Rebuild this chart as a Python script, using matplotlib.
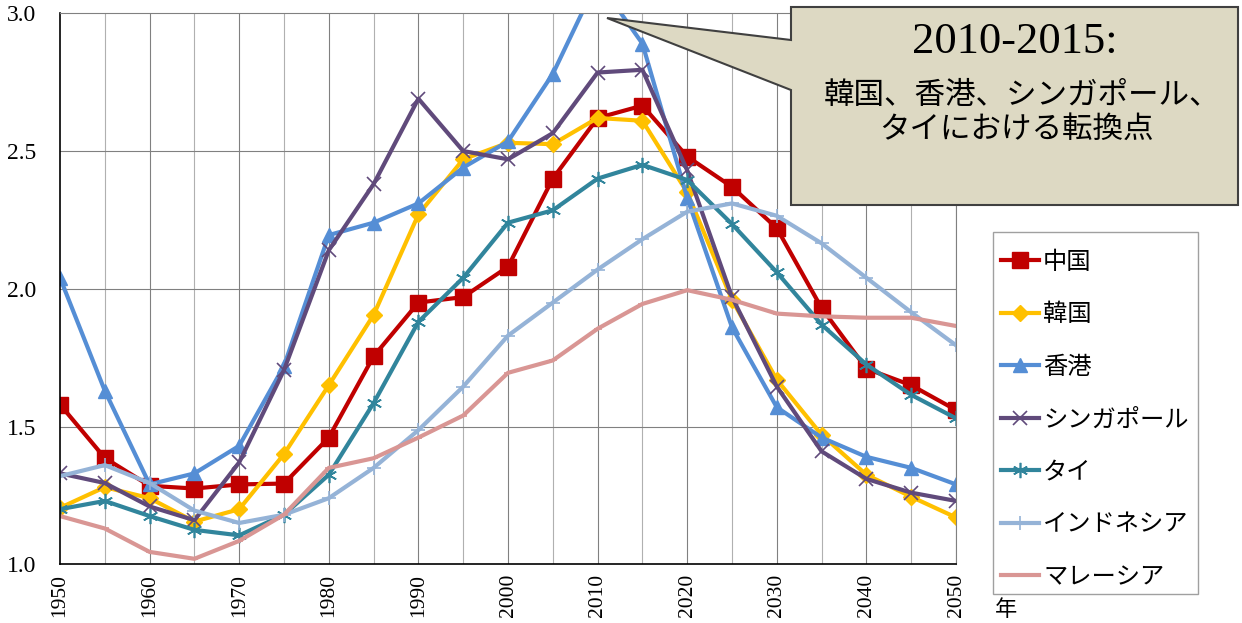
import matplotlib
matplotlib.use('Agg')
import matplotlib.pyplot as plt
from matplotlib.patches import Polygon, Rectangle

plt.rcParams['font.family'] = ['Noto Sans CJK JP', 'DejaVu Sans']

years = list(range(1950, 2051, 5))

china = [1.58, 1.386, 1.285, 1.275, 1.29, 1.293, 1.46, 1.755, 1.95, 1.97, 2.08,
         2.40, 2.62, 2.665, 2.48, 2.37, 2.22, 1.93, 1.71, 1.65, 1.56]
korea = [1.205, 1.28, 1.24, 1.155, 1.20, 1.40, 1.65, 1.905, 2.27, 2.47, 2.53,
         2.525, 2.62, 2.61, 2.35, 1.96, 1.67, 1.47, 1.325, 1.245, 1.17]
hongkong = [2.04, 1.63, 1.29, 1.33, 1.43, 1.72, 2.195, 2.24, 2.31, 2.44, 2.535,
            2.78, 3.12, 2.89, 2.33, 1.86, 1.57, 1.46, 1.39, 1.35, 1.29]
singapore = [1.33, 1.295, 1.21, 1.16, 1.37, 1.705, 2.14, 2.38, 2.69, 2.50, 2.47,
             2.565, 2.785, 2.795, 2.43, 1.97, 1.645, 1.41, 1.31, 1.26, 1.23]
thailand = [1.20, 1.23, 1.175, 1.125, 1.105, 1.18, 1.325, 1.585, 1.88, 2.04, 2.24,
            2.285, 2.40, 2.45, 2.395, 2.235, 2.06, 1.87, 1.725, 1.615, 1.53]
indonesia = [1.32, 1.36, 1.295, 1.195, 1.15, 1.18, 1.24, 1.35, 1.487, 1.645, 1.83,
             1.95, 2.07, 2.18, 2.28, 2.31, 2.265, 2.165, 2.04, 1.915, 1.795]
malaysia = [1.175, 1.13, 1.045, 1.02, 1.085, 1.18, 1.35, 1.385, 1.46, 1.54, 1.695,
            1.74, 1.855, 1.945, 1.995, 1.96, 1.91, 1.90, 1.895, 1.895, 1.865]

labels = ['中国', '韓国', '香港', 'シンガポール', 'タイ', 'インドネシア', 'マレーシア']
series = [china, korea, hongkong, singapore, thailand, indonesia, malaysia]
colors = ['#C00000', '#FFC000', '#558ED5', '#604A7B', '#31859C', '#95B3D7', '#D99694']
markers = ['s', 'D', '^', 'x', (6, 2, 0), '+', '_']
msizes = [11, 8, 10, 10, 11, 10, 6]

fig = plt.figure(figsize=(12.42, 6.23), dpi=100)
ax = fig.add_axes([60 / 1242, 1 - 564.3 / 623, (956 - 60) / 1242, (564.3 - 13.3) / 623])

# grid
for yr in range(1955, 2051, 5):
    c = '#808080' if yr % 10 == 0 else '#b0b0b0'
    ax.axvline(yr, color=c, linewidth=0.8, zorder=0)
for v in [1.5, 2.0, 2.5]:
    ax.axhline(v, color='#808080', linewidth=0.8, zorder=0)

for lab, s, c, m, ms in zip(labels, series, colors, markers, msizes):
    if m in ('s', 'D', '^'):
        ax.plot(years, s, color=c, linewidth=3, marker=m, markersize=ms,
                markeredgecolor=c, label=lab)
    else:
        ax.plot(years, s, color=c, linewidth=3, marker=m, markersize=ms,
                markeredgewidth=1.2, label=lab)

ax.set_xlim(1950, 2050)
ax.set_ylim(1.0, 3.0)
ax.set_xticks(range(1950, 2051, 10))
ax.set_yticks([1.0, 1.5, 2.0, 2.5, 3.0])
ax.set_yticklabels(['1.0', '1.5', '2.0', '2.5', '3.0'])
for t in ax.get_yticklabels():
    t.set_fontfamily('Liberation Serif')
    t.set_fontsize(17)
for t in ax.get_xticklabels():
    t.set_fontfamily('Liberation Serif')
    t.set_fontsize(15.5)
    t.set_rotation(90)
ax.tick_params(axis='x', length=0, pad=7)
ax.tick_params(axis='y', length=0, pad=17)
ax.spines['top'].set_color('#808080')
ax.spines['right'].set_color('#808080')
ax.spines['left'].set_color('black')
ax.spines['bottom'].set_color('black')
ax.spines['left'].set_linewidth(1.2)
ax.spines['bottom'].set_linewidth(1.2)

# legend with hand-placed frame
fig.add_artist(Rectangle((993 / 1242, 1 - 594 / 623), 205 / 1242, 362 / 623,
                         transform=fig.transFigure, facecolor='white',
                         edgecolor='#a0a0a0', linewidth=1.0))
leg = fig.legend(loc='upper left', bbox_to_anchor=(1001 / 1242, 1 - 249 / 623),
                 fontsize=17.5, frameon=False, handlelength=1.56,
                 handletextpad=0.17, labelspacing=1.09,
                 borderpad=0, borderaxespad=0)

fig.text(995 / 1242, 1 - 610 / 623, '年', fontsize=16, ha='left', va='center')

# callout
pts_px = [(791, 7), (1238, 7), (1238, 205), (791, 205), (791, 90), (607, 18), (791, 40)]
pts = [(x / 1242, 1 - y / 623) for x, y in pts_px]
callout = Polygon(pts, closed=True, transform=fig.transFigure, facecolor='#DDD9C3',
                  edgecolor='#404040', linewidth=1.5, zorder=10)
fig.add_artist(callout)
fig.text(1015 / 1242, 1 - 42 / 623, '2010-2015:', fontsize=32, family='Liberation Serif',
         ha='center', va='center', zorder=11)
fig.text(1022 / 1242, 1 - 95 / 623, '韓国、香港、シンガポール、', fontsize=22,
         ha='center', va='center', zorder=11)
fig.text(1016 / 1242, 1 - 129 / 623, 'タイにおける転換点', fontsize=22,
         ha='center', va='center', zorder=11)

fig.savefig('out.png', dpi=100)
